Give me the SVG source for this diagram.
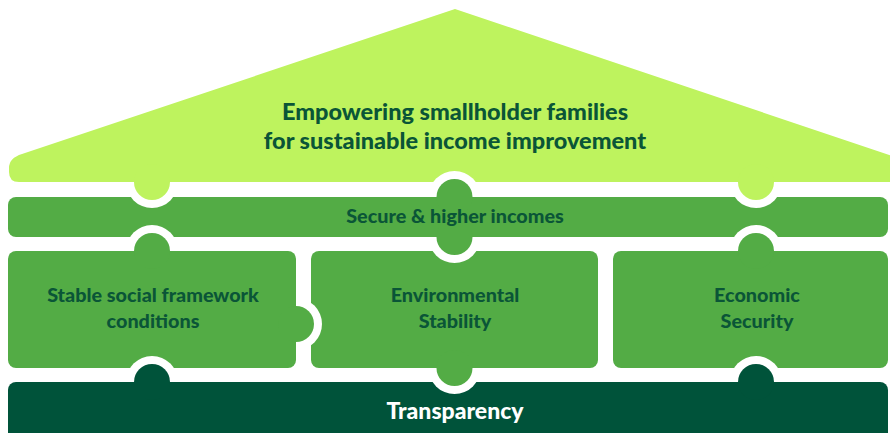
<svg xmlns="http://www.w3.org/2000/svg" width="890" height="433" viewBox="0 0 890 433">
<style>
.roof{fill:#BEF35E}
.mid{fill:#53AC45}
.dark{fill:#00533A}
.t{font-family:Lato,"Liberation Sans",sans-serif;font-weight:900;fill:#0A5537;text-anchor:middle}
.tw{font-family:Lato,"Liberation Sans",sans-serif;font-weight:900;fill:#FFFFFF;text-anchor:middle}
</style>
<defs>
<mask id="mRoof" maskUnits="userSpaceOnUse" x="0" y="0" width="890" height="433">
<rect x="0" y="0" width="890" height="433" fill="#fff"/>
<circle cx="454.5" cy="197" r="26" fill="#000"/>
</mask>
<mask id="mBand" maskUnits="userSpaceOnUse" x="0" y="0" width="890" height="433">
<rect x="0" y="0" width="890" height="433" fill="#fff"/>
<circle cx="152" cy="182" r="26" fill="#000"/>
<circle cx="756" cy="182" r="26" fill="#000"/>
<circle cx="152" cy="251" r="26" fill="#000"/>
<circle cx="756" cy="251" r="26" fill="#000"/>
</mask>
<mask id="mLeft" maskUnits="userSpaceOnUse" x="0" y="0" width="890" height="433">
<rect x="0" y="0" width="890" height="433" fill="#fff"/>
<circle cx="152" cy="382" r="26" fill="#000"/>
</mask>
<mask id="mMid" maskUnits="userSpaceOnUse" x="0" y="0" width="890" height="433">
<rect x="0" y="0" width="890" height="433" fill="#fff"/>
<circle cx="454.5" cy="237" r="26" fill="#000"/>
<circle cx="296" cy="324" r="26" fill="#000"/>
</mask>
<mask id="mRight" maskUnits="userSpaceOnUse" x="0" y="0" width="890" height="433">
<rect x="0" y="0" width="890" height="433" fill="#fff"/>
<circle cx="756" cy="382" r="26" fill="#000"/>
</mask>
<mask id="mBase" maskUnits="userSpaceOnUse" x="0" y="0" width="890" height="433">
<rect x="0" y="0" width="890" height="433" fill="#fff"/>
<circle cx="454.5" cy="368" r="26" fill="#000"/>
</mask>
</defs>
<rect width="890" height="433" fill="#fff"/>
<g id="roof">
<g class="roof" mask="url(#mRoof)">
<path d="M455,9 L22,154 Q9,158 9,168 L9,172 Q9,182 19,182 L900,182 L900,158.5 Z"/>
<circle cx="152" cy="182" r="18"/>
<circle cx="756" cy="182" r="18"/>
</g>
<text class="t" x="455" y="120" font-size="23.5">Empowering smallholder families</text>
<text class="t" x="455" y="149" font-size="23.5">for sustainable income improvement</text>
</g>
<g id="incomes">
<g class="mid" mask="url(#mBand)">
<rect x="8" y="197" width="880" height="40" rx="8"/>
<circle cx="454.5" cy="197" r="18"/>
<circle cx="454.5" cy="237" r="18"/>
</g>
<text class="t" x="455" y="223" font-size="19.8">Secure &amp; higher incomes</text>
</g>
<g id="social">
<g class="mid" mask="url(#mLeft)">
<rect x="8" y="251" width="288" height="117" rx="8"/>
<circle cx="152" cy="251" r="18"/>
<circle cx="296" cy="324" r="18"/>
</g>
<text class="t" x="153" y="302" font-size="19.8">Stable social framework</text>
<text class="t" x="153" y="328" font-size="19.8">conditions</text>
</g>
<g id="environmental">
<g class="mid" mask="url(#mMid)">
<rect x="311" y="251" width="287" height="117" rx="8"/>
<circle cx="454.5" cy="368" r="18"/>
</g>
<text class="t" x="455" y="302" font-size="19.8">Environmental</text>
<text class="t" x="455" y="328" font-size="19.8">Stability</text>
</g>
<g id="economic">
<g class="mid" mask="url(#mRight)">
<rect x="613" y="251" width="275" height="117" rx="8"/>
<circle cx="756" cy="251" r="18"/>
</g>
<text class="t" x="757" y="302" font-size="19.8">Economic</text>
<text class="t" x="757" y="328" font-size="19.8">Security</text>
</g>
<g id="transparency">
<g class="dark" mask="url(#mBase)">
<rect x="8" y="382" width="880" height="70" rx="8"/>
<circle cx="152" cy="382" r="18"/>
<circle cx="756" cy="382" r="18"/>
</g>
<text class="tw" x="455" y="419" font-size="23">Transparency</text>
</g>
<g id="connectors"/>
</svg>
